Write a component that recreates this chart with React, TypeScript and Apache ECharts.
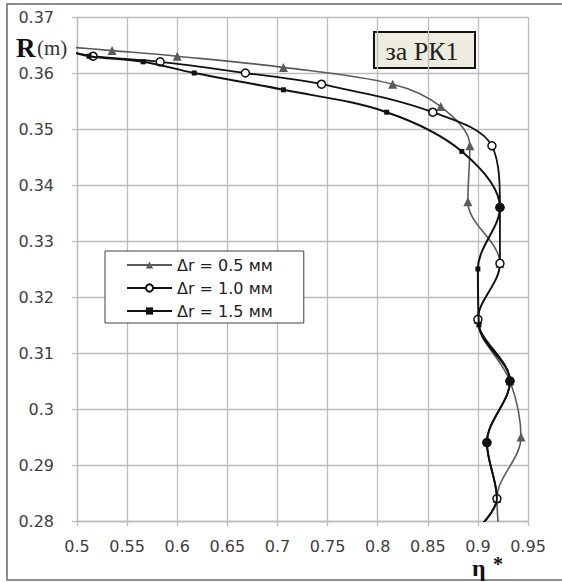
import React, { useEffect, useRef } from 'react';
import * as echarts from 'echarts';

const seriesNames = ['Δr = 0.5 мм', 'Δr = 1.0 мм', 'Δr = 1.5 мм'];

// Δr = 0.5 mm (triangles)
const etaA = [0.48, 0.535, 0.6, 0.706, 0.815, 0.863, 0.892, 0.89, 0.922, 0.9, 0.932, 0.943, 0.919, 0.921];
const rA = [0.3648, 0.364, 0.363, 0.361, 0.358, 0.354, 0.347, 0.337, 0.326, 0.316, 0.305, 0.295, 0.284, 0.278];

// Δr = 1.0 mm (open circles)
const etaB = [0.49, 0.516, 0.583, 0.668, 0.744, 0.855, 0.914, 0.922, 0.922, 0.9, 0.932, 0.909, 0.919, 0.902];
const rB = [0.364, 0.363, 0.362, 0.36, 0.358, 0.353, 0.347, 0.336, 0.326, 0.316, 0.305, 0.294, 0.284, 0.279];

// Δr = 1.5 mm (small squares)
const etaC = [0.49, 0.512, 0.566, 0.617, 0.706, 0.809, 0.884, 0.922, 0.9, 0.901, 0.932, 0.909, 0.919, 0.902];
const rC = [0.364, 0.363, 0.362, 0.36, 0.357, 0.353, 0.346, 0.336, 0.325, 0.315, 0.305, 0.294, 0.284, 0.279];

// points of Δr = 1.5 shown as large filled dots / without a marker
const bigDotR = [0.336, 0.305, 0.294];
const noMarkR = [0.284];

const xMin = 0.5, xMax = 0.95, xStep = 0.05;
const yMin = 0.28, yMax = 0.37, yStep = 0.01;

const titleText = 'за РК1';
const yName = 'R';
const yUnit = '(m)';
const xName = 'η';

const fmt = (v: number) => String(+v.toFixed(2));

export default function App() {
  const ref = useRef<HTMLDivElement>(null);
  useEffect(() => {
    if (!ref.current) return;
    const chart = echarts.init(ref.current, undefined, { renderer: 'svg' });
    const gridColor = '#bcbcbc';
    const labelStyle = { fontFamily: 'DejaVu Sans', fontSize: 16, color: '#404040' };
    const pairs = (xs: number[], rs: number[]) => xs.map((x, i) => [x, rs[i]]);
    const dataC = etaC.map((x, i) => {
      const r = rC[i];
      const item: any = { value: [x, r] };
      if (bigDotR.includes(r)) {
        item.symbol = 'circle';
        item.symbolSize = 9;
      } else if (noMarkR.includes(r)) {
        item.symbol = 'none';
      }
      return item;
    });
    const option: any = {
      animation: false,
      backgroundColor: '#ffffff',
      grid: { left: 77, right: 34, top: 17, bottom: 61 },
      xAxis: {
        type: 'value', min: xMin, max: xMax, interval: xStep,
        axisLine: { show: true, onZero: false, lineStyle: { color: gridColor, width: 1.3 } },
        axisTick: { show: true, length: 5, lineStyle: { color: gridColor, width: 1.3 } },
        axisLabel: { ...labelStyle, margin: 17, formatter: fmt },
        splitLine: { show: true, lineStyle: { color: gridColor, width: 1.3 } },
      },
      yAxis: {
        type: 'value', min: yMin, max: yMax, interval: yStep,
        axisLine: { show: true, onZero: false, lineStyle: { color: gridColor, width: 1.3 } },
        axisTick: { show: true, length: 5, lineStyle: { color: gridColor, width: 1.3 } },
        axisLabel: { ...labelStyle, margin: 23, formatter: fmt },
        splitLine: { show: true, lineStyle: { color: gridColor, width: 1.3 } },
      },
      legend: {
        orient: 'vertical', left: 105, top: 251,
        itemWidth: 45, itemHeight: 9, itemGap: 7,
        padding: [6, 31, 4, 21],
        borderColor: '#404040', borderWidth: 1, backgroundColor: '#ffffff',
        textStyle: { fontFamily: 'DejaVu Sans', fontSize: 16, color: '#222222' },
        data: seriesNames,
      },
      series: [
        {
          name: seriesNames[0], type: 'line', smooth: 0.35, clip: true,
          data: pairs(etaA, rA), symbol: 'triangle', symbolSize: 9, showAllSymbol: true,
          lineStyle: { color: '#5a5a5a', width: 1.6 },
          itemStyle: { color: '#5a5a5a' },
          z: 2,
        },
        {
          name: seriesNames[1], type: 'line', smooth: 0.35, clip: true,
          data: pairs(etaB, rB), symbol: 'circle', symbolSize: 8, showAllSymbol: true,
          lineStyle: { color: '#111111', width: 1.8 },
          itemStyle: { color: '#ffffff', borderColor: '#111111', borderWidth: 1.5 },
          z: 3,
        },
        {
          name: seriesNames[2], type: 'line', smooth: 0.35, clip: true,
          data: dataC, symbol: 'rect', symbolSize: 5, showAllSymbol: true,
          lineStyle: { color: '#111111', width: 2 },
          itemStyle: { color: '#111111' },
          z: 4,
        },
      ],
      graphic: [
        {
          type: 'rect', silent: true, z: 100,
          shape: { x: 7, y: 4, width: 556, height: 576 },
          style: { fill: 'none', stroke: '#8c8c8c', lineWidth: 2 },
        },
        {
          type: 'group', z: 100,
          children: [
            {
              type: 'rect',
              shape: { x: 374, y: 32, width: 101, height: 36 },
              style: { fill: '#eeece1', stroke: '#111111', lineWidth: 2 },
            },
            {
              type: 'text',
              style: {
                text: titleText, x: 422, y: 51, textAlign: 'center', textVerticalAlign: 'middle',
                font: '26px "Liberation Serif"', fill: '#222222',
              },
            },
          ],
        },
        {
          type: 'text', z: 100,
          style: {
            text: yName, x: 16, y: 47.5, textVerticalAlign: 'middle',
            font: 'bold 27px "Liberation Serif"', fill: '#111111',
          },
        },
        {
          type: 'text', z: 100,
          style: {
            text: yUnit, x: 37, y: 48, textVerticalAlign: 'middle',
            font: '21px "Liberation Serif"', fill: '#333333',
          },
        },
        {
          type: 'text', z: 100,
          style: {
            text: xName, x: 472, y: 568, textVerticalAlign: 'middle',
            font: 'bold 24px "Liberation Serif"', fill: '#111111',
          },
        },
        {
          type: 'text', z: 100,
          style: {
            text: '*', x: 493, y: 564, textVerticalAlign: 'middle',
            font: 'bold 20px "Liberation Serif"', fill: '#111111',
          },
        },
      ],
    };
    chart.setOption(option);
    return () => chart.dispose();
  }, []);
  return (
    <div
      ref={ref}
      style={{ position: 'fixed', left: 0, top: 0, width: 562, height: 582, background: '#fff' }}
    />
  );
}
